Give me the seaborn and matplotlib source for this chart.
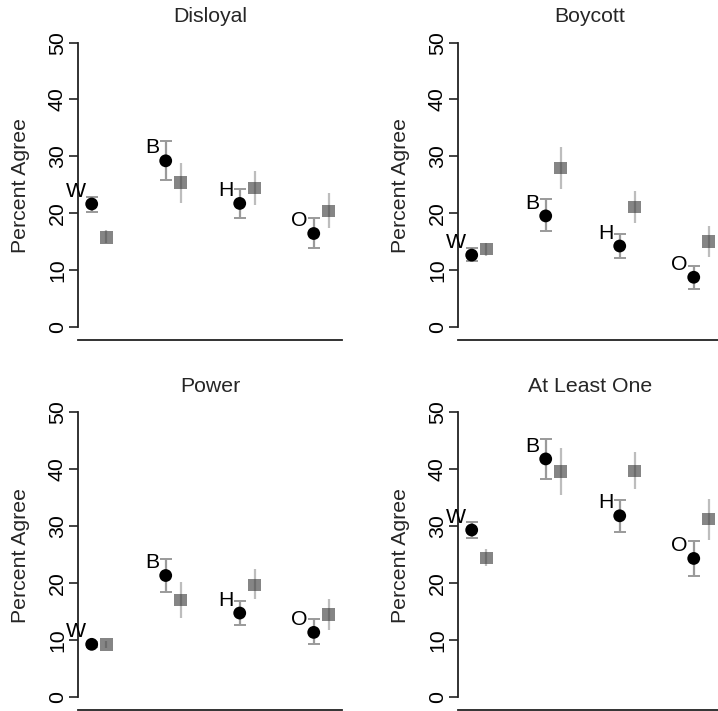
import numpy as np
import pandas as pd
import matplotlib
matplotlib.use("Agg")
import matplotlib.pyplot as plt
import seaborn as sns

sns.set_theme(style="white")
plt.rcParams['font.family'] = ['Liberation Sans', 'DejaVu Sans']

# ---- data -------------------------------------------------------------
groups = ["W", "B", "H", "O"]
panels = ["Disloyal", "Boycott", "Power", "At Least One"]
yticks = [0, 10, 20, 30, 40, 50]

# circles (black) : estimate, lower, upper
disloyal_c = [21.6, 29.2, 21.7, 16.4]
disloyal_c_lo = [20.2, 25.9, 19.2, 13.9]
disloyal_c_hi = [22.9, 32.6, 24.2, 19.1]
# squares (grey)
disloyal_s = [15.7, 25.4, 24.4, 20.4]
disloyal_s_lo = [14.7, 21.7, 21.5, 17.3]
disloyal_s_hi = [17.0, 28.9, 27.4, 23.6]

boycott_c = [12.6, 19.5, 14.2, 8.7]
boycott_c_lo = [11.6, 16.8, 12.1, 6.7]
boycott_c_hi = [13.8, 22.4, 16.3, 10.7]
boycott_s = [13.7, 27.9, 21.1, 15.0]
boycott_s_lo = [12.5, 24.2, 18.3, 12.2]
boycott_s_hi = [14.8, 31.7, 23.8, 17.8]

power_c = [9.2, 21.3, 14.7, 11.3]
power_c_lo = [8.8, 18.4, 12.6, 9.2]
power_c_hi = [9.6, 24.2, 16.8, 13.7]
power_s = [9.2, 17.0, 19.6, 14.4]
power_s_lo = [8.6, 13.9, 17.1, 11.7]
power_s_hi = [9.8, 20.2, 22.4, 17.2]

one_c = [29.3, 41.8, 31.8, 24.3]
one_c_lo = [27.9, 38.3, 28.9, 21.2]
one_c_hi = [30.7, 45.3, 34.6, 27.3]
one_s = [24.4, 39.6, 39.7, 31.2]
one_s_lo = [23.0, 35.5, 36.5, 27.5]
one_s_hi = [25.9, 43.7, 43.1, 34.8]

panel_data = {
    "Disloyal": (disloyal_c, disloyal_c_lo, disloyal_c_hi, disloyal_s, disloyal_s_lo, disloyal_s_hi),
    "Boycott": (boycott_c, boycott_c_lo, boycott_c_hi, boycott_s, boycott_s_lo, boycott_s_hi),
    "Power": (power_c, power_c_lo, power_c_hi, power_s, power_s_lo, power_s_hi),
    "At Least One": (one_c, one_c_lo, one_c_hi, one_s, one_s_lo, one_s_hi),
}

# ---- layout -----------------------------------------------------------
W, H = 718, 711
fig = plt.figure(figsize=(W / 100, H / 100), dpi=100)

def px_axes(left, top, right, bottom):
    return fig.add_axes([left / W, 1 - bottom / H, (right - left) / W, (bottom - top) / H])

boxes = [(78, 31.3, 342, 340.3), (458, 31.3, 722, 340.3),
         (78, 400.9, 342, 710.3), (458, 400.9, 722, 710.3)]

FS = 15.3
offset = 0.2

for name, box in zip(panels, boxes):
    ax = px_axes(*box)
    c, clo, chi, s, slo, shi = panel_data[name]
    idx = np.arange(1, len(groups) + 1)
    df = pd.DataFrame({"group": groups, "pos": idx, "c": c, "s": s})
    df["pos_s"] = df["pos"] + offset

    # square error lines (no caps)
    ax.vlines(df["pos_s"], slo, shi, color="#bdbdbd", lw=1.6, zorder=1)
    # squares
    sns.scatterplot(data=df, x="pos_s", y="s", marker="s", s=82, color="#3a3a3a",
                    alpha=0.62, edgecolor="none", linewidth=0, ax=ax, zorder=2)
    # circle error bars with caps
    ax.errorbar(df["pos"], c, yerr=[np.array(c) - np.array(clo), np.array(chi) - np.array(c)],
                fmt="none", ecolor="#9a9a9a", elinewidth=1.6, capsize=4.3, capthick=1.4, zorder=3)
    sns.scatterplot(data=df, x="pos", y="c", marker="o", s=85, color="black",
                    edgecolor="none", linewidth=0, ax=ax, zorder=4)

    for g, xv, yv in zip(groups, idx, c):
        ax.annotate(g, (xv, yv), xytext=(-4.3, 5.3), textcoords="offset points",
                    ha="right", va="baseline", fontsize=FS, color="black", zorder=5)

    ax.set_xlim(0.815, 4.382)
    ax.set_ylim(-2.4, 52)
    ax.set_xticks([])
    ax.set_yticks(yticks)
    ax.set_yticklabels([str(t) for t in yticks], rotation=90, va="center")
    ax.tick_params(axis="y", length=6.5, width=1.2, color="#222222", pad=1.5,
                   labelsize=FS, left=True, labelcolor="black")
    for sp in ["top", "right"]:
        ax.spines[sp].set_visible(False)
    ax.spines["left"].set_bounds(0, 50)
    for sp in ["left", "bottom"]:
        ax.spines[sp].set_color("#222222")
        ax.spines[sp].set_linewidth(1.3)
    ax.set_xlabel("")
    ax.set_ylabel("Percent Agree", fontsize=FS)
    ax.yaxis.set_label_coords(-0.182, 0.5)
    ax.set_title(name, fontsize=FS, pad=6.5)
    ax.set_facecolor("white")
    ax.patch.set_alpha(0)

fig.savefig("out.png", dpi=100, facecolor="white")
